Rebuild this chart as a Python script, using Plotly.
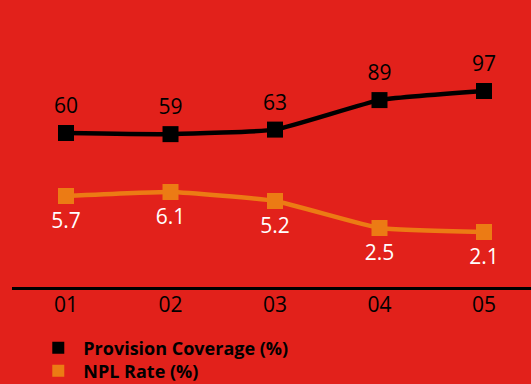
import plotly.graph_objects as go

categories = ["01", "02", "03", "04", "05"]
provision_coverage = [60, 59, 63, 89, 97]
npl_rate = [5.7, 6.1, 5.2, 2.5, 2.1]

BG = "#E2211B"
ORANGE = "#EC7B14"
FONT = "Open Sans"

fig = go.Figure()
fig.add_trace(go.Scatter(
    x=categories, y=provision_coverage, mode="lines+markers",
    line=dict(color="black", width=4.5, shape="spline", smoothing=0.4),
    marker=dict(symbol="square", size=16, color="black"),
    showlegend=False, cliponaxis=False,
))
fig.add_trace(go.Scatter(
    x=categories, y=provision_coverage, mode="markers+text",
    marker=dict(symbol="square", size=22, opacity=0),
    text=[str(v) for v in provision_coverage], textposition="top center",
    textfont=dict(family=FONT, size=21, color="black"),
    showlegend=False, cliponaxis=False, hoverinfo="skip",
))
fig.add_trace(go.Scatter(
    x=categories, y=npl_rate, mode="lines+markers", yaxis="y2",
    line=dict(color=ORANGE, width=4.5, shape="spline", smoothing=0.4),
    marker=dict(symbol="square", size=16, color=ORANGE),
    showlegend=False, cliponaxis=False,
))
fig.add_trace(go.Scatter(
    x=categories, y=npl_rate, mode="markers+text", yaxis="y2",
    marker=dict(symbol="square", size=24, opacity=0),
    text=[f"{v:.1f}" for v in npl_rate], textposition="bottom center",
    textfont=dict(family=FONT, size=21, color="white"),
    showlegend=False, cliponaxis=False, hoverinfo="skip",
))
# legend entries (marker only), each in its own legend box for exact placement
fig.add_trace(go.Scatter(x=[None], y=[None], mode="markers", name="Provision Coverage (%)",
                         marker=dict(symbol="square", size=15, color="black"), legend="legend"))
fig.add_trace(go.Scatter(x=[None], y=[None], mode="markers", name="NPL Rate (%)",
                         marker=dict(symbol="square", size=15, color=ORANGE), legend="legend2"))

legend_common = dict(xanchor="left", yanchor="middle", orientation="v",
                     bgcolor="rgba(0,0,0,0)", itemsizing="constant", itemwidth=40,
                     font=dict(family=FONT, size=18, color="black", weight="bold"))

fig.update_layout(
    width=531, height=384,
    margin=dict(l=12, r=0, t=0, b=97, autoexpand=False),
    paper_bgcolor=BG, plot_bgcolor=BG,
    xaxis=dict(type="category", range=[-0.517, 4.45], showgrid=False, zeroline=False,
               showline=True, linecolor="black", linewidth=2.5, ticks="",
               ticklabelstandoff=-3,
               tickfont=dict(family=FONT, size=21, color="black")),
    yaxis=dict(range=[-75.7, 177.2], visible=False, showgrid=False),
    yaxis2=dict(range=[-3.4, 25.3], overlaying="y", visible=False, showgrid=False),
    legend=dict(x=0.041, y=-0.2125, **legend_common),
    legend2=dict(x=0.041, y=-0.2927, **legend_common),
)
fig.write_html("out.html")
